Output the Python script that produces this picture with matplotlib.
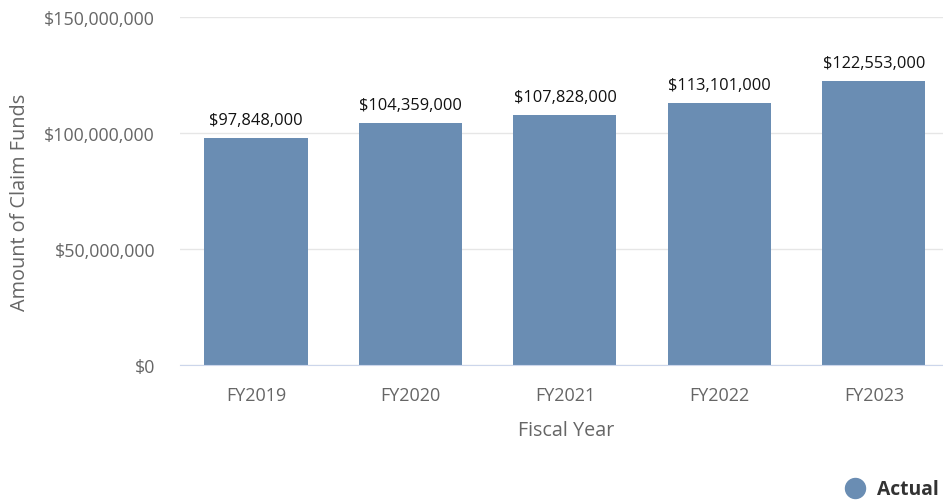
import matplotlib
matplotlib.use("Agg")
import matplotlib.pyplot as plt
from matplotlib.lines import Line2D
from matplotlib.ticker import FuncFormatter

years = ["FY2019", "FY2020", "FY2021", "FY2022", "FY2023"]
actual = [97848000, 104359000, 107828000, 113101000, 122553000]
y_ticks = [0, 50000000, 100000000, 150000000]

plt.rcParams["font.family"] = ["Open Sans", "DejaVu Sans"]

bar_color = "#6a8db3"
fig = plt.figure(figsize=(9.43, 5.02), dpi=100)
ax = fig.add_axes([180 / 943, (502 - 366) / 502, (943 - 180) / 943, (366 - 18) / 502])

x = list(range(len(years)))
ax.bar(x, actual, width=0.667, color=bar_color, zorder=2)
for xi, v in zip(x, actual):
    ax.annotate(f"${v:,.0f}", (xi, v), xytext=(0, 7), textcoords="offset points",
                ha="center", va="bottom", fontsize=11.8, color="#111111")

ax.set_xlim(-0.492, 4.447)
ax.set_ylim(0, 150000000)
ax.set_yticks(y_ticks)
ax.yaxis.set_major_formatter(FuncFormatter(lambda v, p: f"${v:,.0f}"))
ax.set_xticks(x)
ax.set_xticklabels(years)
ax.tick_params(axis="both", length=0, labelcolor="#666666")
ax.tick_params(axis="y", pad=18, labelsize=12.9)
ax.tick_params(axis="x", pad=15, labelsize=13)
ax.grid(axis="y", color="#e6e6e6", linewidth=1, zorder=0)
for s in ["top", "right", "left"]:
    ax.spines[s].set_visible(False)
ax.spines["bottom"].set_color("#ccd6eb")
ax.spines["bottom"].set_zorder(3)

fig.text(20 / 943, 1 - 202 / 502, "Amount of Claim Funds", rotation=90,
         ha="center", va="center", fontsize=14.3, color="#666666")
fig.text(566 / 943, 1 - 431 / 502, "Fiscal Year", ha="center", va="center",
         fontsize=14.2, color="#666666")

# legend
fig.add_artist(Line2D([855 / 943], [1 - 489 / 502], marker="o", markersize=14.4,
                      color=bar_color, transform=fig.transFigure))
fig.text(877 / 943, 1 - 490 / 502, "Actual", ha="left", va="center",
         fontsize=13.9, fontweight="bold", color="#333333")

fig.savefig("out.png", dpi=100)
